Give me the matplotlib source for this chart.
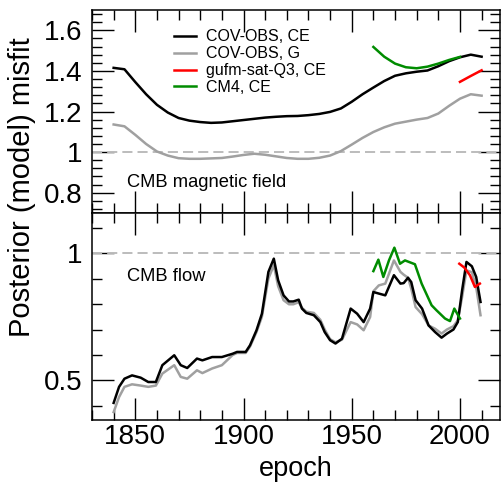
import matplotlib
matplotlib.use('Agg')
from matplotlib import pyplot as plt
from matplotlib.ticker import MultipleLocator, FixedLocator, FuncFormatter
import numpy as np

plt.rcParams['font.family'] = ['Liberation Sans', 'DejaVu Sans']

# ---- top panel: CMB magnetic field misfit ----
yr_field = [1840, 1845, 1850, 1855, 1860, 1865, 1870, 1875, 1880, 1885, 1890, 1895,
            1900, 1905, 1910, 1915, 1920, 1925, 1930, 1935, 1940, 1945, 1950, 1955,
            1960, 1965, 1970, 1975, 1980, 1985, 1990, 1995, 2000, 2005, 2010]
field_ce = [1.415, 1.408, 1.345, 1.285, 1.233, 1.195, 1.168, 1.155, 1.148, 1.144, 1.146, 1.152,
            1.158, 1.164, 1.170, 1.174, 1.177, 1.178, 1.182, 1.188, 1.198, 1.215, 1.248, 1.285,
            1.318, 1.350, 1.376, 1.388, 1.396, 1.402, 1.423, 1.448, 1.467, 1.480, 1.470]
field_g = [1.136, 1.127, 1.085, 1.040, 1.003, 0.983, 0.970, 0.967, 0.967, 0.969, 0.971, 0.978,
           0.986, 0.992, 0.987, 0.979, 0.971, 0.967, 0.967, 0.972, 0.983, 1.005, 1.037, 1.070,
           1.099, 1.122, 1.140, 1.150, 1.160, 1.168, 1.190, 1.228, 1.263, 1.285, 1.278]
yr_field_cm4 = [1960, 1965, 1970, 1975, 1980, 1985, 1990, 1995, 2000]
field_cm4 = [1.518, 1.470, 1.436, 1.418, 1.413, 1.421, 1.436, 1.454, 1.469]
yr_field_gufm = [2000, 2005, 2010]
field_gufm = [1.346, 1.375, 1.403]

# ---- bottom panel: CMB flow misfit ----
yr_flow = [1840, 1842.5, 1845, 1848.5, 1852.5, 1856, 1859.5, 1862.5, 1868, 1871, 1874, 1878.5,
           1881, 1885.5, 1890, 1895, 1897, 1901, 1903, 1906, 1908.5, 1911.5, 1914, 1916,
           1918.5, 1921, 1923, 1925.5, 1927, 1929, 1932.5, 1935.5, 1937.5, 1940, 1942.5, 1945.5,
           1949.5, 1952.5, 1955.5, 1958.5, 1960, 1962.5, 1965.5, 1969.5, 1972.5, 1974, 1976, 1977.5,
           1979.5, 1982.5, 1985.5, 1988.5, 1991.5, 1994, 1997, 1999, 2001, 2003, 2005.5, 2007.5, 2009.5]
flow_ce = [0.412, 0.475, 0.507, 0.520, 0.511, 0.494, 0.494, 0.560, 0.599, 0.560, 0.549, 0.586,
           0.579, 0.592, 0.592, 0.605, 0.612, 0.612, 0.638, 0.697, 0.762, 0.926, 0.978, 0.893,
           0.834, 0.810, 0.810, 0.817, 0.782, 0.765, 0.756, 0.729, 0.690, 0.658, 0.645, 0.664,
           0.782, 0.762, 0.729, 0.782, 0.847, 0.841, 0.834, 0.913, 0.880, 0.882, 0.903, 0.886,
           0.815, 0.782, 0.716, 0.690, 0.668, 0.684, 0.700, 0.729, 0.854, 0.965, 0.948, 0.906, 0.808]
flow_g = [0.376, 0.435, 0.475, 0.485, 0.480, 0.475, 0.480, 0.527, 0.560, 0.514, 0.507, 0.540,
          0.529, 0.547, 0.560, 0.600, 0.608, 0.608, 0.633, 0.690, 0.750, 0.900, 0.952, 0.870,
          0.815, 0.799, 0.799, 0.807, 0.785, 0.770, 0.765, 0.738, 0.700, 0.662, 0.650, 0.660,
          0.729, 0.720, 0.697, 0.749, 0.850, 0.873, 0.880, 0.971, 0.926, 0.915, 0.903, 0.860,
          0.788, 0.760, 0.716, 0.703, 0.684, 0.700, 0.713, 0.736, 0.828, 0.932, 0.925, 0.866, 0.756]
yr_flow_cm4 = [1960, 1962.3, 1964.6, 1967.2, 1969.7, 1972.3, 1974.6, 1979.2, 1982.3, 1986.9,
               1989.2, 1993.1, 1995.4, 1997.4, 2000]
flow_cm4 = [0.929, 0.974, 0.906, 0.971, 1.021, 0.958, 0.971, 0.956, 0.880, 0.795,
            0.775, 0.743, 0.733, 0.782, 0.743]
yr_flow_gufm = [1999.7, 2002, 2004.6, 2006.9, 2009.2]
flow_gufm = [0.958, 0.943, 0.913, 0.867, 0.880]

labels = ['COV-OBS, CE', 'COV-OBS, G', 'gufm-sat-Q3, CE', 'CM4, CE']
colours = ['black', '#a0a0a0', '#ff0000', '#008c00']

fig = plt.figure(figsize=(5.01, 4.84), dpi=100)
ax1 = fig.add_axes([92/501, 1-213/484, 408/501, 203/484])
ax2 = fig.add_axes([92/501, 1-420/484, 408/501, 207/484])

lw = 1.8
dash = (0, (5.2, 2.6))
# top
ax1.axhline(1.0, color='#bcbcbc', lw=1.4, ls=dash)
ax1.plot(yr_field, field_g, color=colours[1], lw=lw)
ax1.plot(yr_field, field_ce, color=colours[0], lw=lw)
ax1.plot(yr_field_gufm, field_gufm, color=colours[2], lw=lw)
ax1.plot(yr_field_cm4, field_cm4, color=colours[3], lw=lw)
# bottom
ax2.axhline(1.0, color='#bcbcbc', lw=1.4, ls=dash)
ax2.plot(yr_flow, flow_g, color=colours[1], lw=lw)
ax2.plot(yr_flow, flow_ce, color=colours[0], lw=lw)
ax2.plot(yr_flow_gufm, flow_gufm, color=colours[2], lw=lw)
ax2.plot(yr_flow_cm4, flow_cm4, color=colours[3], lw=lw)

handles = [plt.Line2D([], [], color=c, lw=lw) for c in colours]
ax1.legend(handles, labels, loc='upper left', bbox_to_anchor=(0.2, 0.905), frameon=False,
           fontsize=11.5, handlelength=1.4, handletextpad=0.6, labelspacing=0.12,
           borderpad=0, borderaxespad=0)

ax1.text(0.086, 0.148, 'CMB magnetic field', transform=ax1.transAxes, fontsize=13.2, va='center')
ax2.text(0.086, 0.692, 'CMB flow', transform=ax2.transAxes, fontsize=13.2, va='center')

fmt = FuncFormatter(lambda v, p: '%g' % round(v, 3))
for ax in (ax1, ax2):
    ax.set_xlim(1830, 2018.5)
    ax.xaxis.set_major_locator(MultipleLocator(50))
    ax.xaxis.set_minor_locator(MultipleLocator(10))
    ax.tick_params(which='both', direction='in', top=True, right=True, width=1.0)
    ax.tick_params(which='major', length=16, labelsize=20)
    ax.tick_params(which='minor', length=7.5)
    for s in ax.spines.values():
        s.set_linewidth(1.1)

ax1.set_ylim(0.7, 1.7)
ax1.yaxis.set_major_locator(FixedLocator([0.8, 1.0, 1.2, 1.4, 1.6]))
ax1.yaxis.set_minor_locator(MultipleLocator(0.04))
ax1.yaxis.set_major_formatter(fmt)
ax1.tick_params(axis='x', labelbottom=False)
ax1.tick_params(axis='y', pad=7)

ax2.set_ylim(0.345, 1.157)
ax2.yaxis.set_major_locator(FixedLocator([0.5, 1.0]))
ax2.yaxis.set_minor_locator(FixedLocator([0.4, 0.6, 0.7, 0.8, 0.9, 1.1]))
ax2.yaxis.set_major_formatter(fmt)
ax2.tick_params(axis='y', pad=7)
ax2.tick_params(axis='x', pad=3)
ax2.set_xlabel('epoch', fontsize=19.5, labelpad=4)

fig.text(22/501, 1-187/484, 'Posterior (model) misfit', rotation=90, fontsize=21,
         ha='center', va='center')

fig.savefig('out.png', dpi=100)
